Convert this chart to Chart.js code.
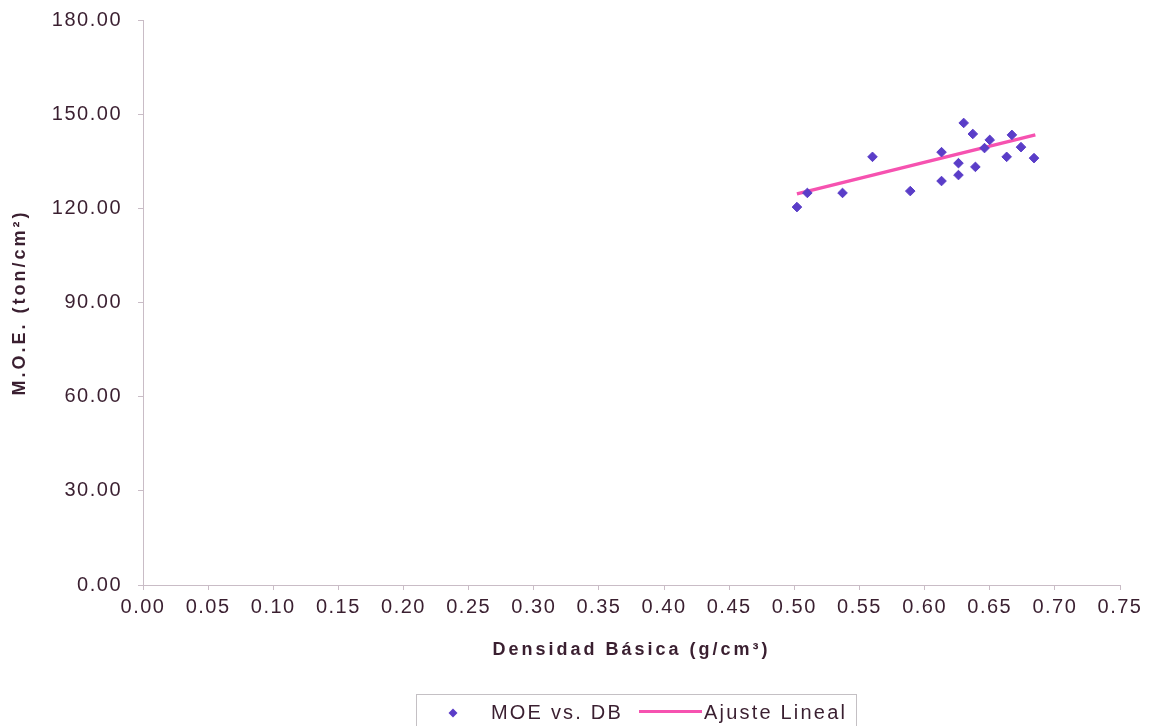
<!DOCTYPE html>
<html>
<head>
<meta charset="utf-8">
<script src="https://cdn.jsdelivr.net/npm/chart.js@4.4.1/dist/chart.umd.min.js"></script>
<style>
  html, body { margin: 0; padding: 0; background: #ffffff; }
  #wrap { width: 1149px; height: 726px; position: relative; }
</style>
</head>
<body>
<div id="wrap"><canvas id="c" width="1149" height="726"></canvas></div>
<script>
// ---- data ----
const densidad = [0.502, 0.510, 0.537, 0.560, 0.589, 0.613, 0.613, 0.626, 0.626, 0.630, 0.637, 0.639, 0.646, 0.650, 0.663, 0.667, 0.674, 0.684];
const moe      = [120.4, 124.9, 124.9, 136.4, 125.5, 128.7, 137.9, 130.6, 134.4, 147.2, 143.7, 133.2, 139.2, 141.8, 136.4, 143.4, 139.5, 136.0];
const ajusteX  = [0.502, 0.685];
const ajusteY  = [124.6, 143.4];
const seriesNames = ['MOE vs. DB', 'Ajuste Lineal'];
const xTitle = 'Densidad Básica (g/cm³)';
const yTitle = 'M.O.E. (ton/cm²)';
const xRange = [0, 0.75, 0.05];
const yRange = [0, 180, 30];

const TEXT = '#3a1f30';
const AXIS = '#c9bcc6';
const MARK = '#5a3dc8';
const PINK = '#f652b0';
const FONT = '"Liberation Sans", Arial, sans-serif';

// letter spacing to imitate the wide-spaced text of the reference
const origDrawTitle = Chart.Scale.prototype.drawTitle;
Chart.Scale.prototype.drawTitle = function () {
  const c = this.ctx;
  const prev = c.letterSpacing;
  c.letterSpacing = '3px';
  origDrawTitle.apply(this, arguments);
  c.letterSpacing = prev;
};
const spacingPlugin = {
  id: 'spacing',
  beforeLayout(chart) { chart.ctx.letterSpacing = '1.5px'; },
  beforeDraw(chart) { chart.ctx.letterSpacing = '1.5px'; }
};

const legendBox = {
  id: 'legendBox',
  afterDraw(chart) {
    const ctx = chart.ctx;
    const ds = chart.data.datasets;
    ctx.save();
    ctx.letterSpacing = '2.2px';
    ctx.fillStyle = '#ffffff';
    ctx.strokeStyle = '#c4c0c4';
    ctx.lineWidth = 1;
    ctx.fillRect(416.5, 694.5, 440, 40);
    ctx.strokeRect(416.5, 694.5, 440, 40);
    ctx.font = '20px ' + FONT;
    ctx.textBaseline = 'middle';
    // item 1: diamond marker
    const cx = 453, cy = 713, r = 4.5;
    ctx.beginPath();
    ctx.moveTo(cx - r, cy); ctx.lineTo(cx, cy - r); ctx.lineTo(cx + r, cy); ctx.lineTo(cx, cy + r);
    ctx.closePath();
    ctx.fillStyle = ds[0].backgroundColor;
    ctx.fill();
    ctx.fillStyle = TEXT;
    ctx.fillText(ds[0].label, 491, 713);
    // item 2: line
    ctx.strokeStyle = ds[1].borderColor;
    ctx.lineWidth = 3;
    ctx.beginPath();
    ctx.moveTo(639, 711.5); ctx.lineTo(702, 711.5);
    ctx.stroke();
    ctx.fillText(ds[1].label, 704, 713);
    ctx.restore();
  }
};

new Chart(document.getElementById('c'), {
  type: 'scatter',
  data: {
    datasets: [
      {
        label: seriesNames[0],
        data: densidad.map((x, i) => ({ x: x, y: moe[i] })),
        pointStyle: 'rectRot',
        pointRadius: 4.8,
        pointBorderWidth: 1,
        backgroundColor: MARK,
        borderColor: MARK,
        order: 1
      },
      {
        label: seriesNames[1],
        type: 'line',
        data: ajusteX.map((x, i) => ({ x: x, y: ajusteY[i] })),
        borderColor: PINK,
        backgroundColor: PINK,
        borderWidth: 3.5,
        pointRadius: 0,
        fill: false,
        order: 2
      }
    ]
  },
  options: {
    responsive: false,
    animation: false,
    devicePixelRatio: 1,
    layout: { padding: { left: 0, top: 20, right: 29, bottom: 61 } },
    plugins: { legend: { display: false }, tooltip: { enabled: false } },
    scales: {
      x: {
        type: 'linear',
        min: xRange[0], max: xRange[1],
        afterFit(s) { s.height = 80; s.paddingLeft = 0; s.paddingRight = 0; },
        ticks: {
          stepSize: xRange[2],
          padding: 5,
          color: TEXT,
          font: { family: FONT, size: 20 },
          callback: v => Number(v).toFixed(2),
          maxRotation: 0, autoSkip: false
        },
        grid: { display: true, drawOnChartArea: false, drawTicks: true, tickLength: 5, color: AXIS },
        border: { display: true, color: AXIS, width: 1 },
        title: {
          display: true, text: xTitle, color: TEXT,
          font: { family: FONT, size: 18, weight: 'bold' },
          padding: { top: 4, bottom: 4 }
        }
      },
      y: {
        type: 'linear',
        min: yRange[0], max: yRange[1],
        afterFit(s) { s.width = 143; s.paddingTop = 0; s.paddingBottom = 0; },
        ticks: {
          stepSize: yRange[2],
          padding: 16,
          color: TEXT,
          font: { family: FONT, size: 20 },
          callback: v => Number(v).toFixed(2)
        },
        grid: { display: true, drawOnChartArea: false, drawTicks: true, tickLength: 5, color: AXIS },
        border: { display: true, color: AXIS, width: 1 },
        title: {
          display: true, text: yTitle, color: TEXT,
          font: { family: FONT, size: 18, weight: 'bold' },
          padding: { top: 9, bottom: 4 }
        }
      }
    }
  },
  plugins: [spacingPlugin, legendBox]
});
</script>
</body>
</html>
